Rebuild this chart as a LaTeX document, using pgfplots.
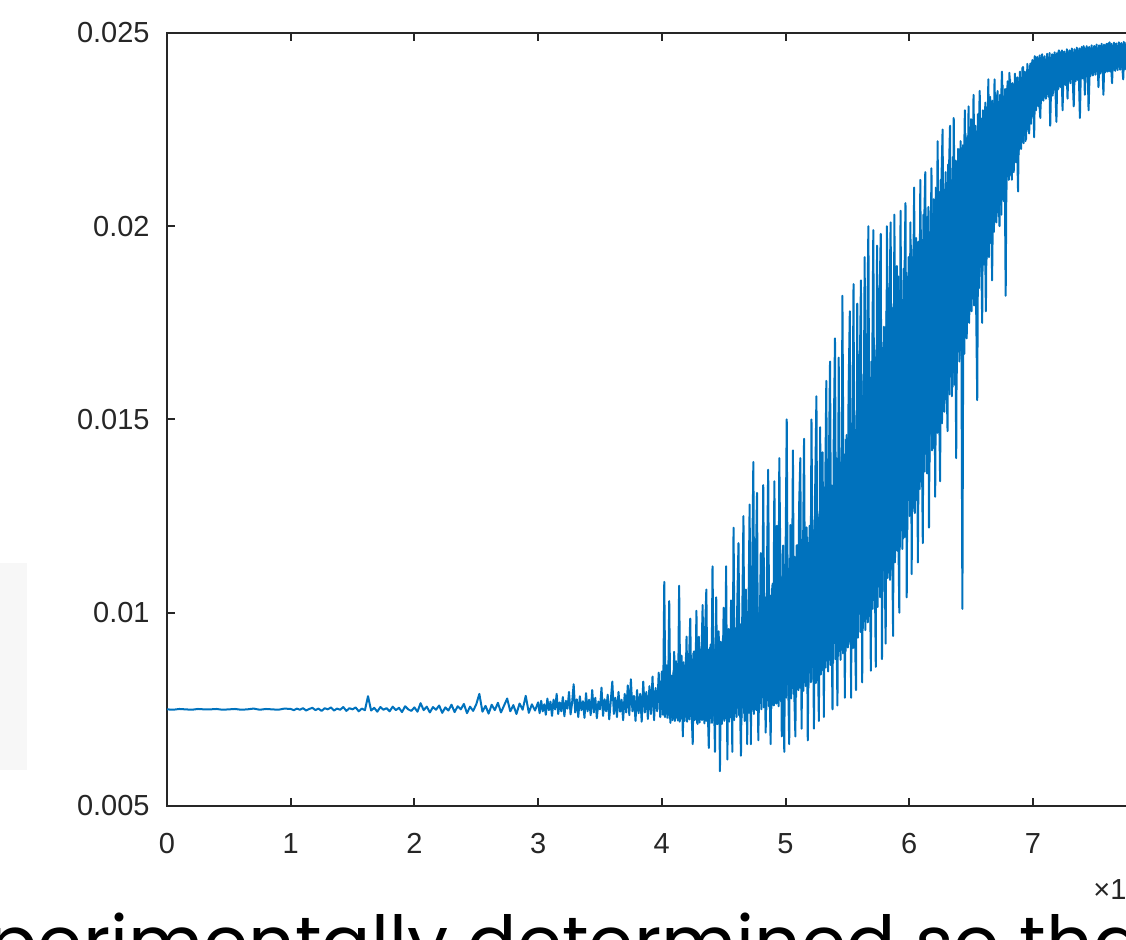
\documentclass[border=0pt]{standalone}
\usepackage{pgfplots}
\pgfplotsset{compat=1.18}
\usepackage{fontspec}
\setmainfont{Liberation Sans}
\newfontfamily\geofont{Poppins}
\definecolor{axgrey}{HTML}{262626}
\definecolor{mblue}{HTML}{0072BD}
\begin{document}
\begin{tikzpicture}
\path[use as bounding box] (0,0) rectangle (563pt,470pt);
\clip (0,0) rectangle (563pt,470pt);
\fill[black!3] (0,85pt) rectangle (13.5pt,188.5pt);
\begin{axis}[
  at={(83.5pt,67pt)}, anchor=south west,
  width=494.8pt, height=386.5pt, scale only axis,
  xmin=0, xmax=8, ymin=0.005, ymax=0.025,
  xtick={0,1,2,3,4,5,6,7,8},
  xticklabels={0,1,2,3,4,5,6,7,8},
  ytick={0.005,0.01,0.015,0.02,0.025},
  yticklabels={0.005,0.01,0.015,0.02,0.025},
  scaled x ticks=false, scaled y ticks=false,
  tick align=inside, major tick length=4pt,
  axis line style={color=axgrey, line width=1pt},
  every tick/.style={color=axgrey, line width=1pt},
  ticklabel style={font=\fontsize{14.5}{17}\selectfont, color=axgrey, inner sep=0pt},
  xticklabel style={anchor=north, yshift=-13.5pt},
  yticklabel style={anchor=east, xshift=-8.5pt},
  clip=true,
]
% dense core of the signal (interleaved samples)
\addplot[color=mblue, line width=1pt, line join=round] coordinates {
(4.005,0.00735) (4.015,0.00800) (4.025,0.00730) (4.035,0.00815) (4.045,0.00728) (4.055,0.00830) (4.065,0.00726) (4.075,0.00838) (4.085,0.00722) (4.095,0.00850)
(4.105,0.00720) (4.115,0.00875) (4.125,0.00726) (4.135,0.00868) (4.145,0.00718) (4.155,0.00880) (4.165,0.00725) (4.175,0.00872) (4.185,0.00720) (4.195,0.00885)
(4.205,0.00718) (4.215,0.00890) (4.225,0.00724) (4.235,0.00882) (4.245,0.00716) (4.255,0.00895) (4.265,0.00722) (4.275,0.00888) (4.285,0.00715) (4.295,0.00900)
(4.305,0.00716) (4.315,0.00905) (4.325,0.00722) (4.335,0.00898) (4.345,0.00714) (4.355,0.00912) (4.365,0.00720) (4.375,0.00905) (4.385,0.00713) (4.395,0.00918)
(4.405,0.00715) (4.415,0.00925) (4.425,0.00720) (4.435,0.00918) (4.445,0.00712) (4.455,0.00932) (4.465,0.00718) (4.475,0.00925) (4.485,0.00712) (4.495,0.00940)
(4.505,0.00720) (4.515,0.00950) (4.525,0.00725) (4.535,0.00940) (4.545,0.00718) (4.555,0.00955) (4.565,0.00728) (4.575,0.00945) (4.585,0.00722) (4.595,0.00960)
(4.605,0.00730) (4.615,0.00980) (4.625,0.00735) (4.635,0.00970) (4.645,0.00728) (4.655,0.00985) (4.665,0.00740) (4.675,0.00975) (4.685,0.00732) (4.695,0.00995)
(4.705,0.00740) (4.715,0.01020) (4.725,0.00745) (4.735,0.01010) (4.745,0.00738) (4.755,0.01025) (4.765,0.00748) (4.775,0.01015) (4.785,0.00742) (4.795,0.01035)
(4.805,0.00750) (4.815,0.01050) (4.825,0.00755) (4.835,0.01040) (4.845,0.00748) (4.855,0.01060) (4.865,0.00758) (4.875,0.01045) (4.885,0.00752) (4.895,0.01075)
(4.905,0.00760) (4.915,0.01100) (4.925,0.00765) (4.935,0.01090) (4.945,0.00758) (4.955,0.01110) (4.965,0.00770) (4.975,0.01095) (4.985,0.00765) (4.995,0.01125)
(5.005,0.00780) (5.015,0.01150) (5.025,0.00785) (5.035,0.01140) (5.045,0.00778) (5.055,0.01160) (5.065,0.00790) (5.075,0.01145) (5.085,0.00782) (5.095,0.01175)
(5.105,0.00800) (5.115,0.01200) (5.125,0.00805) (5.135,0.01190) (5.145,0.00798) (5.155,0.01210) (5.165,0.00810) (5.175,0.01195) (5.185,0.00805) (5.195,0.01225)
(5.205,0.00820) (5.215,0.01250) (5.225,0.00828) (5.235,0.01240) (5.245,0.00818) (5.255,0.01265) (5.265,0.00835) (5.275,0.01255) (5.285,0.00840) (5.295,0.01290)
(5.305,0.00850) (5.315,0.01320) (5.325,0.00858) (5.335,0.01310) (5.345,0.00848) (5.355,0.01340) (5.365,0.00865) (5.375,0.01330) (5.385,0.00870) (5.395,0.01370)
(5.405,0.00880) (5.415,0.01400) (5.425,0.00888) (5.435,0.01390) (5.445,0.00878) (5.455,0.01420) (5.465,0.00895) (5.475,0.01410) (5.485,0.00900) (5.495,0.01460)
(5.505,0.00910) (5.515,0.01500) (5.525,0.00918) (5.535,0.01490) (5.545,0.00908) (5.555,0.01520) (5.565,0.00925) (5.575,0.01510) (5.585,0.00935) (5.595,0.01560)
(5.605,0.00950) (5.615,0.01600) (5.625,0.00960) (5.635,0.01590) (5.645,0.00955) (5.655,0.01620) (5.665,0.00975) (5.675,0.01610) (5.685,0.00990) (5.695,0.01650)
(5.705,0.01010) (5.715,0.01690) (5.725,0.01020) (5.735,0.01680) (5.745,0.01015) (5.755,0.01710) (5.765,0.01040) (5.775,0.01700) (5.785,0.01055) (5.795,0.01740)
(5.805,0.01080) (5.815,0.01780) (5.825,0.01090) (5.835,0.01770) (5.845,0.01085) (5.855,0.01800) (5.865,0.01110) (5.875,0.01790) (5.885,0.01130) (5.895,0.01830)
(5.905,0.01160) (5.915,0.01870) (5.925,0.01170) (5.935,0.01860) (5.945,0.01165) (5.955,0.01890) (5.965,0.01195) (5.975,0.01880) (5.985,0.01215) (5.995,0.01920)
(6.005,0.01250) (6.015,0.01950) (6.025,0.01262) (6.035,0.01940) (6.045,0.01258) (6.055,0.01970) (6.065,0.01290) (6.075,0.01960) (6.085,0.01320) (6.095,0.01990)
(6.105,0.01350) (6.115,0.02030) (6.125,0.01365) (6.135,0.02020) (6.145,0.01360) (6.155,0.02050) (6.165,0.01390) (6.175,0.02040) (6.185,0.01420) (6.195,0.02070)
(6.205,0.01450) (6.215,0.02100) (6.225,0.01465) (6.235,0.02090) (6.245,0.01460) (6.255,0.02120) (6.265,0.01490) (6.275,0.02110) (6.285,0.01520) (6.295,0.02140)
(6.305,0.01550) (6.315,0.02160) (6.325,0.01565) (6.335,0.02150) (6.345,0.01560) (6.355,0.02180) (6.365,0.01590) (6.375,0.02170) (6.385,0.01620) (6.395,0.02200)
(6.405,0.01650) (6.415,0.02220) (6.425,0.01665) (6.435,0.02210) (6.445,0.01670) (6.455,0.02240) (6.465,0.01710) (6.475,0.02230) (6.485,0.01750) (6.495,0.02250)
(6.505,0.01780) (6.515,0.02270) (6.525,0.01795) (6.535,0.02260) (6.545,0.01800) (6.555,0.02290) (6.565,0.01840) (6.575,0.02280) (6.585,0.01870) (6.595,0.02300)
(6.605,0.01900) (6.615,0.02320) (6.625,0.01915) (6.635,0.02310) (6.645,0.01920) (6.655,0.02335) (6.665,0.01955) (6.675,0.02325) (6.685,0.01985) (6.695,0.02345)
(6.705,0.02010) (6.715,0.02350) (6.725,0.02025) (6.735,0.02340) (6.745,0.02030) (6.755,0.02365) (6.765,0.02065) (6.775,0.02355) (6.785,0.02095) (6.795,0.02375)
(6.805,0.02120) (6.815,0.02380) (6.825,0.02130) (6.835,0.02370) (6.845,0.02140) (6.855,0.02395) (6.865,0.02165) (6.875,0.02385) (6.885,0.02185) (6.895,0.02400)
(6.905,0.02200) (6.915,0.02410) (6.925,0.02215) (6.935,0.02400) (6.945,0.02225) (6.955,0.02420) (6.965,0.02245) (6.975,0.02415) (6.985,0.02265) (6.995,0.02430)
(7.005,0.02280) (7.015,0.02440) (7.025,0.02300) (7.035,0.02438) (7.045,0.02310) (7.055,0.02442) (7.065,0.02318) (7.075,0.02445) (7.085,0.02325) (7.095,0.02440)
(7.105,0.02330) (7.115,0.02446) (7.125,0.02335) (7.135,0.02448) (7.145,0.02340) (7.155,0.02445) (7.165,0.02345) (7.175,0.02450) (7.185,0.02350) (7.195,0.02448)
(7.205,0.02355) (7.215,0.02452) (7.225,0.02360) (7.235,0.02455) (7.245,0.02362) (7.255,0.02452) (7.265,0.02365) (7.275,0.02458) (7.285,0.02368) (7.295,0.02455)
(7.305,0.02370) (7.315,0.02460) (7.325,0.02372) (7.335,0.02458) (7.345,0.02375) (7.355,0.02462) (7.365,0.02378) (7.375,0.02460) (7.385,0.02380) (7.395,0.02464)
(7.405,0.02382) (7.415,0.02462) (7.425,0.02385) (7.435,0.02466) (7.445,0.02386) (7.455,0.02464) (7.465,0.02388) (7.475,0.02468) (7.485,0.02390) (7.495,0.02466)
(7.505,0.02392) (7.515,0.02470) (7.525,0.02393) (7.535,0.02468) (7.545,0.02395) (7.555,0.02472) (7.565,0.02396) (7.575,0.02470) (7.585,0.02398) (7.595,0.02472)
(7.605,0.02400) (7.615,0.02474) (7.625,0.02400) (7.635,0.02472) (7.645,0.02402) (7.655,0.02475) (7.665,0.02402) (7.675,0.02473) (7.685,0.02404) (7.695,0.02476)
(7.705,0.02405) (7.715,0.02474) (7.725,0.02405) (7.735,0.02477) (7.745,0.02406) (7.755,0.02475) (7.765,0.02406) (7.775,0.02478) (7.785,0.02408) (7.795,0.02476)
};
\addplot[color=mblue, line width=1pt, line join=round] coordinates {
(0,0.00750) (0.05,0.00749) (0.10,0.00751) (0.15,0.00750) (0.20,0.00749) (0.25,0.00751) (0.30,0.00750) (0.35,0.00750) (0.40,0.00751) (0.45,0.00749)
(0.50,0.00750) (0.55,0.00751) (0.60,0.00749) (0.65,0.00750) (0.70,0.00752) (0.75,0.00749) (0.80,0.00751) (0.85,0.00750) (0.90,0.00749) (0.95,0.00752)
(1.000,0.00751) (1.025,0.00748) (1.050,0.00752) (1.075,0.00749) (1.100,0.00753) (1.125,0.00747) (1.150,0.00751) (1.175,0.00754) (1.200,0.00748) (1.225,0.00752)
(1.250,0.00746) (1.275,0.00753) (1.300,0.00750) (1.325,0.00755) (1.350,0.00747) (1.375,0.00752) (1.400,0.00749) (1.425,0.00756) (1.450,0.00746) (1.475,0.00753)
(1.500,0.00750) (1.525,0.00755) (1.550,0.00745) (1.575,0.00752) (1.600,0.00748) (1.625,0.00784) (1.650,0.00747) (1.675,0.00754) (1.700,0.00744) (1.725,0.00756)
(1.750,0.00749) (1.775,0.00753) (1.800,0.00745) (1.825,0.00757) (1.850,0.00748) (1.875,0.00754) (1.900,0.00743) (1.925,0.00758) (1.950,0.00750) (1.975,0.00746)
(2.000,0.00755) (2.025,0.00744) (2.050,0.00766) (2.075,0.00748) (2.100,0.00757) (2.125,0.00742) (2.150,0.00756) (2.175,0.00749) (2.200,0.00760) (2.225,0.00741)
(2.250,0.00755) (2.275,0.00747) (2.300,0.00762) (2.325,0.00743) (2.350,0.00758) (2.375,0.00750) (2.400,0.00764) (2.425,0.00740) (2.450,0.00757) (2.475,0.00746)
(2.500,0.00763) (2.525,0.00790) (2.550,0.00744) (2.575,0.00759) (2.600,0.00739) (2.625,0.00762) (2.650,0.00748) (2.675,0.00767) (2.700,0.00742) (2.725,0.00760)
(2.750,0.00778) (2.775,0.00745) (2.800,0.00761) (2.825,0.00738) (2.850,0.00765) (2.875,0.00749) (2.900,0.00785) (2.925,0.00741) (2.950,0.00763) (2.975,0.00747)
(3.0000,0.00768) (3.0125,0.00740) (3.0250,0.00772) (3.0375,0.00745) (3.0500,0.00763) (3.0625,0.00736) (3.0750,0.00778) (3.0875,0.00748) (3.1000,0.00770) (3.1125,0.00733)
(3.1250,0.00775) (3.1375,0.00750) (3.1500,0.00790) (3.1625,0.00738) (3.1750,0.00768) (3.1875,0.00745) (3.2000,0.00782) (3.2125,0.00732) (3.2250,0.00772) (3.2375,0.00752)
(3.2500,0.00795) (3.2625,0.00737) (3.2750,0.00767) (3.2875,0.00815) (3.3000,0.00742) (3.3125,0.00776) (3.3250,0.00730) (3.3375,0.00784) (3.3500,0.00748) (3.3625,0.00771)
(3.3750,0.00728) (3.3875,0.00792) (3.4000,0.00745) (3.4125,0.00775) (3.4250,0.00735) (3.4375,0.00800) (3.4500,0.00742) (3.4625,0.00780) (3.4750,0.00727) (3.4875,0.00770)
(3.5000,0.00750) (3.5125,0.00806) (3.5250,0.00733) (3.5375,0.00776) (3.5500,0.00745) (3.5625,0.00788) (3.5750,0.00724) (3.5875,0.00772) (3.6000,0.00822) (3.6125,0.00738)
(3.6250,0.00780) (3.6375,0.00730) (3.6500,0.00795) (3.6625,0.00744) (3.6750,0.00775) (3.6875,0.00722) (3.7000,0.00790) (3.7125,0.00742) (3.7250,0.00812) (3.7375,0.00735)
(3.7500,0.00828) (3.7625,0.00745) (3.7750,0.00785) (3.7875,0.00720) (3.8000,0.00800) (3.8125,0.00740) (3.8250,0.00790) (3.8375,0.00718) (3.8500,0.00822) (3.8625,0.00742)
(3.8750,0.00795) (3.8875,0.00725) (3.9000,0.00810) (3.9125,0.00738) (3.9250,0.00835) (3.9375,0.00722) (3.9500,0.00805) (3.9625,0.00745) (3.9750,0.00845) (3.9875,0.00730)
(4.00,0.00848) (4.01,0.00736) (4.02,0.01080) (4.03,0.00752) (4.04,0.00864) (4.05,0.00768) (4.06,0.01030) (4.07,0.00715) (4.08,0.00832) (4.09,0.00744)
(4.10,0.00899) (4.11,0.00752) (4.12,0.00868) (4.13,0.00721) (4.14,0.01070) (4.15,0.00773) (4.16,0.00889) (4.17,0.00680) (4.18,0.00836) (4.19,0.00763)
(4.20,0.00938) (4.21,0.00725) (4.22,0.00875) (4.23,0.00985) (4.24,0.00750) (4.25,0.00660) (4.26,0.00900) (4.27,0.00775) (4.28,0.01005) (4.29,0.00712)
(4.30,0.00938) (4.31,0.00742) (4.32,0.00868) (4.33,0.01020) (4.34,0.00728) (4.35,0.00952) (4.36,0.01060) (4.37,0.00770) (4.38,0.00650) (4.39,0.00910)
(4.40,0.00744) (4.41,0.01120) (4.42,0.00808) (4.43,0.00640) (4.44,0.01040) (4.45,0.00712) (4.46,0.00952) (4.47,0.00590) (4.48,0.00904) (4.49,0.00776)
(4.50,0.01013) (4.51,0.00736) (4.52,0.01120) (4.53,0.00620) (4.54,0.00958) (4.55,0.00754) (4.56,0.01032) (4.57,0.00640) (4.58,0.01220) (4.59,0.00810)
(4.60,0.00740) (4.61,0.01020) (4.62,0.01180) (4.63,0.00800) (4.64,0.00630) (4.65,0.00980) (4.66,0.01250) (4.67,0.00720) (4.68,0.01060) (4.69,0.00660)
(4.70,0.00978) (4.71,0.01280) (4.72,0.00660) (4.73,0.01086) (4.74,0.01390) (4.75,0.00806) (4.76,0.01129) (4.77,0.01310) (4.78,0.00670) (4.79,0.00892)
(4.80,0.01154) (4.81,0.00786) (4.82,0.01330) (4.83,0.00878) (4.84,0.00690) (4.85,0.01108) (4.86,0.01370) (4.87,0.00832) (4.88,0.00660) (4.89,0.01062)
(4.90,0.00817) (4.91,0.01340) (4.92,0.00919) (4.93,0.01225) (4.94,0.00766) (4.95,0.01400) (4.96,0.01072) (4.97,0.00680) (4.98,0.01174) (4.99,0.00640)
(5.00,0.01121) (5.01,0.01500) (5.02,0.00856) (5.03,0.00660) (5.04,0.01227) (5.05,0.00909) (5.06,0.01420) (5.07,0.00803) (5.08,0.00680) (5.09,0.01174)
(5.10,0.00903) (5.11,0.01274) (5.12,0.01400) (5.13,0.00700) (5.14,0.01088) (5.15,0.01450) (5.16,0.00850) (5.17,0.01221) (5.18,0.00670) (5.19,0.01035)
(5.20,0.00858) (5.21,0.01500) (5.22,0.01032) (5.23,0.00700) (5.24,0.01322) (5.25,0.01560) (5.26,0.00916) (5.27,0.00720) (5.28,0.01480) (5.29,0.01003)
(5.30,0.01415) (5.31,0.00730) (5.32,0.01285) (5.33,0.01600) (5.34,0.00928) (5.35,0.01350) (5.36,0.01650) (5.37,0.01025) (5.38,0.00750) (5.39,0.01448)
(5.40,0.01710) (5.41,0.01006) (5.42,0.00760) (5.43,0.01660) (5.44,0.01142) (5.45,0.00904) (5.46,0.01820) (5.47,0.01278) (5.48,0.00780) (5.49,0.01448)
(5.50,0.01088) (5.51,0.01575) (5.52,0.01780) (5.53,0.00780) (5.54,0.01388) (5.55,0.01850) (5.56,0.00975) (5.57,0.00800) (5.58,0.01800) (5.59,0.01200)
(5.60,0.01614) (5.61,0.01860) (5.62,0.00820) (5.63,0.01365) (5.64,0.01920) (5.65,0.01075) (5.66,0.01697) (5.67,0.02000) (5.68,0.01199) (5.69,0.00850)
(5.70,0.01595) (5.71,0.01990) (5.72,0.01170) (5.73,0.00860) (5.74,0.01950) (5.75,0.01340) (5.76,0.01808) (5.77,0.01980) (5.78,0.00880) (5.79,0.01510)
(5.80,0.01164) (5.81,0.00920) (5.82,0.02000) (5.83,0.01374) (5.84,0.01794) (5.85,0.02010) (5.86,0.01248) (5.87,0.00940) (5.88,0.02030) (5.89,0.01542)
(5.90,0.01897) (5.91,0.01275) (5.92,0.01000) (5.93,0.02040) (5.94,0.01482) (5.95,0.01192) (5.96,0.01814) (5.97,0.02060) (5.98,0.01040) (5.99,0.01690)
(6.00,0.01490) (6.01,0.02010) (6.02,0.01100) (6.03,0.01730) (6.04,0.02100) (6.05,0.01330) (6.06,0.01850) (6.07,0.01130) (6.08,0.01610) (6.09,0.02120)
(6.10,0.01500) (6.11,0.01180) (6.12,0.01988) (6.13,0.02140) (6.14,0.01613) (6.15,0.02025) (6.16,0.01220) (6.17,0.01800) (6.18,0.02150) (6.19,0.01425)
(6.20,0.02034) (6.21,0.01300) (6.22,0.01815) (6.23,0.02220) (6.24,0.01596) (6.25,0.01340) (6.26,0.02107) (6.27,0.02250) (6.28,0.01669) (6.29,0.01961)
(6.30,0.01651) (6.31,0.01470) (6.32,0.02120) (6.33,0.02260) (6.34,0.01818) (6.35,0.01584) (6.36,0.02280) (6.37,0.01952) (6.38,0.01400) (6.39,0.02153)
(6.40,0.01808) (6.41,0.02154) (6.42,0.01902) (6.43,0.01010) (6.44,0.02091) (6.45,0.02300) (6.46,0.01713) (6.47,0.02028) (6.48,0.02310) (6.49,0.01839)
(6.50,0.02277) (6.51,0.01906) (6.52,0.02340) (6.53,0.02065) (6.54,0.01827) (6.55,0.01550) (6.56,0.02198) (6.57,0.02350) (6.58,0.01986) (6.59,0.01750)
(6.60,0.02278) (6.61,0.02073) (6.62,0.01780) (6.63,0.02196) (6.64,0.02380) (6.65,0.02012) (6.66,0.02319) (6.67,0.01860) (6.68,0.02135) (6.69,0.02380)
(6.70,0.02118) (6.71,0.02339) (6.72,0.02220) (6.73,0.02000) (6.74,0.02288) (6.75,0.02400) (6.76,0.02084) (6.77,0.02254) (6.78,0.01820) (6.79,0.02356)
(6.80,0.02228) (6.81,0.02397) (6.82,0.02306) (6.83,0.02120) (6.84,0.02358) (6.85,0.02202) (6.86,0.02332) (6.87,0.02254) (6.88,0.02090) (6.89,0.02384)
(6.90,0.02340) (6.91,0.02268) (6.92,0.02412) (6.93,0.02358) (6.94,0.02220) (6.95,0.02394) (6.96,0.02304) (6.97,0.02240) (6.98,0.02421) (6.99,0.02322)
(7.00,0.02405) (7.01,0.02230) (7.02,0.02435) (7.03,0.02360) (7.04,0.02420) (7.05,0.02330) (7.06,0.02280) (7.07,0.02443) (7.08,0.02375) (7.09,0.02413)
(7.10,0.02352) (7.11,0.02429) (7.12,0.02394) (7.13,0.02436) (7.14,0.02260) (7.15,0.02408) (7.16,0.02338) (7.17,0.02443) (7.18,0.02380) (7.19,0.02270)
(7.20,0.02438) (7.21,0.02455) (7.22,0.02394) (7.23,0.02427) (7.24,0.02300) (7.25,0.02449) (7.26,0.02383) (7.27,0.02433) (7.28,0.02330) (7.29,0.02444)
(7.30,0.02420) (7.31,0.02455) (7.32,0.02400) (7.33,0.02310) (7.34,0.02440) (7.35,0.02380) (7.36,0.02450) (7.37,0.02410) (7.38,0.02280) (7.39,0.02445)
(7.40,0.02443) (7.41,0.02466) (7.42,0.02340) (7.43,0.02434) (7.44,0.02457) (7.45,0.02300) (7.46,0.02416) (7.47,0.02461) (7.48,0.02407) (7.49,0.02452)
(7.50,0.02466) (7.51,0.02430) (7.52,0.02454) (7.53,0.02360) (7.54,0.02462) (7.55,0.02414) (7.56,0.02446) (7.57,0.02340) (7.58,0.02458) (7.59,0.02426)
(7.60,0.02472) (7.61,0.02448) (7.62,0.02476) (7.63,0.02432) (7.64,0.02370) (7.65,0.02464) (7.66,0.02416) (7.67,0.02472) (7.68,0.02440) (7.69,0.02460)
(7.70,0.02448) (7.71,0.02472) (7.72,0.02424) (7.73,0.02380) (7.74,0.02468) (7.75,0.02440) (7.76,0.02476) (7.77,0.02432) (7.78,0.02464) (7.79,0.02448)
(7.80,0.02470)
};
\end{axis}
\node[anchor=base west, inner sep=0pt, text=axgrey, font=\fontsize{14.5}{17}\selectfont] at (546.5pt,20pt) {×10\textsuperscript{4}};
\node[anchor=base west, inner sep=0pt, font=\geofont\fontsize{36.5}{40}\selectfont] at (-6pt,-14.5pt) {perimentally determined so that};
\end{tikzpicture}
\end{document}
